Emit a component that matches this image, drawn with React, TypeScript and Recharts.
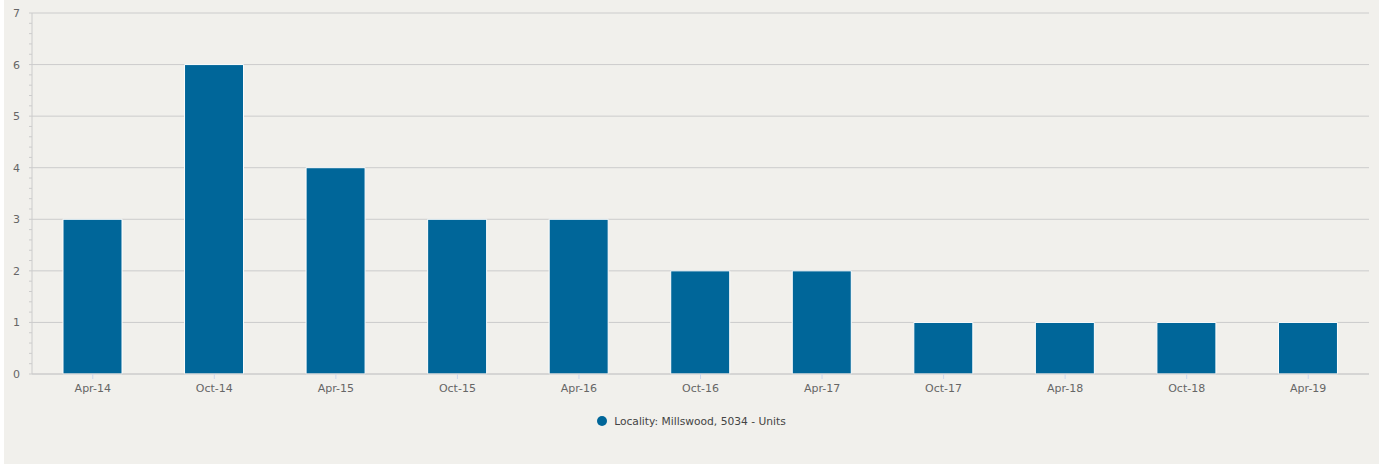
import { BarChart, Bar, XAxis, YAxis, CartesianGrid, Legend } from 'recharts';

const periods = ['Apr-14', 'Oct-14', 'Apr-15', 'Oct-15', 'Apr-16', 'Oct-16', 'Apr-17', 'Oct-17', 'Apr-18', 'Oct-18', 'Apr-19'];
const units = [3, 6, 4, 3, 3, 2, 2, 1, 1, 1, 1];
const majorTicks = [0, 1, 2, 3, 4, 5, 6, 7];
// minor ticks every 0.2 on the value axis
const minorTicks = Array.from({ length: 36 }, (_, i) => (i * 2) / 10);
const seriesName = 'Locality: Millswood, 5034 - Units';

const data = periods.map((period, i) => ({ period, units: units[i] }));

const FONT = '"DejaVu Sans", sans-serif';
const BLUE = '#006699';

const YTick = (props: any) => {
  const { x, y, payload } = props;
  if (!Number.isInteger(payload.value)) return <g />;
  return (
    <text x={x} y={y} dy={4} textAnchor="end" fill="#666666" fontSize={11} fontFamily={FONT}>
      {payload.value}
    </text>
  );
};

const LegendBox = () => (
  <div style={{ display: 'flex', justifyContent: 'center', alignItems: 'center', height: 16, paddingLeft: 10, fontFamily: FONT, fontSize: 10.7, color: '#444' }}>
    <svg width={13} height={12} style={{ marginRight: 4 }}>
      <circle cx={5} cy={6} r={5} fill={BLUE} />
    </svg>
    <span>{seriesName}</span>
  </div>
);

const App = () => (
  <div style={{ position: 'absolute', left: 4, top: 0, width: 1375, height: 464, background: '#f1f0ec' }}>
    <BarChart width={1375} height={464} data={data} margin={{ top: 13, right: 10, bottom: 35, left: 0 }}>
      <CartesianGrid vertical={false} stroke="#cccccc" horizontalValues={majorTicks} />
      <XAxis
        dataKey="period"
        height={39}
        stroke="#cccccc"
        tickLine={{ stroke: '#ccd6eb' }}
        tickSize={5}
        tickMargin={5}
        tick={{ fill: '#666666', fontSize: 11, fontFamily: FONT }}
      />
      <YAxis
        width={28}
        domain={[0, 7]}
        ticks={minorTicks}
        interval={0}
        stroke="#cccccc"
        tickLine={{ stroke: '#cccccc' }}
        tickSize={3}
        tickMargin={9}
        tick={<YTick />}
      />
      <Legend verticalAlign="bottom" content={<LegendBox />} />
      <Bar dataKey="units" name={seriesName} fill={BLUE} stroke="#ffffff" strokeWidth={1} barSize={59} isAnimationActive={false} />
    </BarChart>
  </div>
);

export default App;
